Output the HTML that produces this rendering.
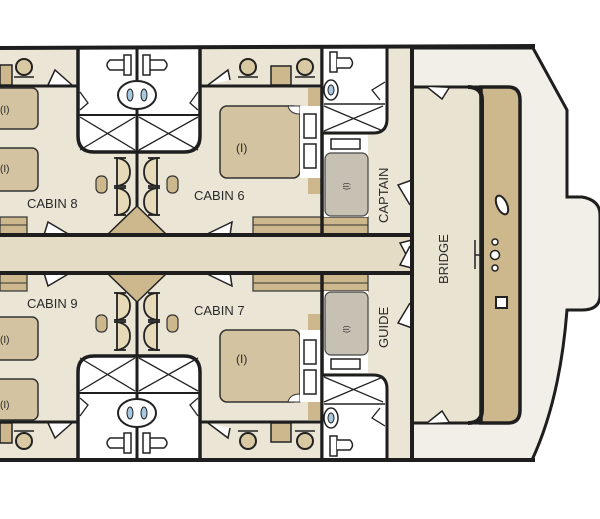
<!DOCTYPE html>
<html><head><meta charset="utf-8"><style>
html,body{margin:0;padding:0;background:#fff;}
svg{display:block;}
text{font-family:"Liberation Sans",sans-serif;fill:#2a2a2a;}
</style></head><body>
<svg width="600" height="519" viewBox="0 0 600 519" xmlns="http://www.w3.org/2000/svg">
<rect width="600" height="519" fill="#fff"/>
<path d="M412,48 L533,48 L567,110 L567,197 L582,197 Q600,200 600,215 L600,295 Q600,310 582,310 L567,310 Q560,400 532,460 L412,460 Z" fill="#f2efe9" stroke="#1e1e1e" stroke-width="3"/>
<rect x="0" y="48" width="412" height="412" fill="#ebe5d5"/>
<rect x="0" y="235" width="412" height="38" fill="#e4dcc5"/>

<g id="top">
  <rect x="0" y="65" width="12" height="20" fill="#cdb88e" stroke="#222" stroke-width="1.5"/>
  <circle cx="24" cy="67" r="8" fill="#d9c9a3" stroke="#222" stroke-width="2"/>
  <line x1="14" y1="77" x2="34" y2="77" stroke="#222" stroke-width="1.5"/>
  <path d="M48,85 L55,70 L72,85" fill="#fff" stroke="#222" stroke-width="1.5"/>
  <path d="M208,85 L228,70 L230,80" fill="#fff" stroke="#222" stroke-width="1.5"/>
  <circle cx="248" cy="67" r="8" fill="#d9c9a3" stroke="#222" stroke-width="2"/>
  <line x1="238" y1="77" x2="258" y2="77" stroke="#222" stroke-width="1.5"/>
  <rect x="271" y="66" width="20" height="19" fill="#cdb88e" stroke="#222" stroke-width="1.5"/>
  <circle cx="305" cy="67" r="8" fill="#d9c9a3" stroke="#222" stroke-width="2"/>
  <line x1="295" y1="77" x2="315" y2="77" stroke="#222" stroke-width="1.5"/>
  <line x1="0" y1="86" x2="78" y2="86" stroke="#1e1e1e" stroke-width="3"/>
  <line x1="200" y1="86" x2="322" y2="86" stroke="#1e1e1e" stroke-width="3"/>
  <rect x="-10" y="88" width="48" height="41" rx="6" fill="#d3c3a0" stroke="#333" stroke-width="1.5"/>
  <rect x="-10" y="148" width="48" height="43" rx="6" fill="#d3c3a0" stroke="#333" stroke-width="1.5"/>
  <rect x="220" y="106" width="80" height="72" rx="7" fill="#d3c3a0" stroke="#333" stroke-width="1.5"/>
  <path d="M288,106 L300,106 L300,114 Q290,114 288,106" fill="#fff" stroke="#333" stroke-width="1"/>
  <rect x="300" y="106" width="22" height="72" fill="#fff"/>
  <rect x="304" y="114" width="12" height="24" fill="#fff" stroke="#222" stroke-width="1.5"/>
  <rect x="304" y="144" width="12" height="24" fill="#fff" stroke="#222" stroke-width="1.5"/>
  <rect x="308" y="88" width="14" height="18" fill="#cdb88e"/>
  <rect x="308" y="178" width="14" height="16" fill="#cdb88e"/>
  <path d="M78,48 L78,136 Q78,152 94,152 L184,152 Q200,152 200,136 L200,48" fill="#fff" stroke="#1e1e1e" stroke-width="3.5"/>
  <line x1="78" y1="115" x2="200" y2="115" stroke="#1e1e1e" stroke-width="2"/>
  <path d="M80,117 L135,150 M80,150 L135,117 M139,117 L198,150 M139,150 L198,117" stroke="#222" stroke-width="1.3"/>
  <line x1="137" y1="48" x2="137" y2="235" stroke="#1e1e1e" stroke-width="3"/>
  <ellipse cx="137" cy="95" rx="19" ry="14" fill="#fff" stroke="#222" stroke-width="2"/>
  <ellipse cx="130" cy="95" rx="3" ry="6" fill="#a8c8e0" stroke="#222" stroke-width="1"/>
  <ellipse cx="144" cy="95" rx="3" ry="6" fill="#a8c8e0" stroke="#222" stroke-width="1"/>
  <path d="M126,60 L110,60 Q104,65 110,70 L126,70 Z" fill="#fff" stroke="#222" stroke-width="1.5"/>
  <rect x="124" y="55" width="7" height="20" fill="#fff" stroke="#222" stroke-width="1.5"/>
  <path d="M148,60 L164,60 Q170,65 164,70 L148,70 Z" fill="#fff" stroke="#222" stroke-width="1.5"/>
  <rect x="143" y="55" width="7" height="20" fill="#fff" stroke="#222" stroke-width="1.5"/>
  <path d="M80,92 L88,103 L80,110 M198,92 L190,103 L198,110" fill="none" stroke="#222" stroke-width="1.3"/>
  <g fill="#e6dab8" stroke="#222" stroke-width="1.8">
    <path d="M117,158 Q130,160 130,172 Q130,184 117,186 Z"/><line x1="114" y1="158" x2="126" y2="158"/><line x1="114" y1="186" x2="126" y2="186"/>
    <path d="M117,188 Q130,190 130,202 Q130,214 117,215 Z"/><line x1="114" y1="188" x2="126" y2="188"/><line x1="114" y1="215" x2="126" y2="215"/>
    <path d="M157,158 Q144,160 144,172 Q144,184 157,186 Z"/><line x1="148" y1="158" x2="160" y2="158"/><line x1="148" y1="186" x2="160" y2="186"/>
    <path d="M157,188 Q144,190 144,202 Q144,214 157,215 Z"/><line x1="148" y1="188" x2="160" y2="188"/><line x1="148" y1="215" x2="160" y2="215"/>
  </g>
  <rect x="96" y="176" width="11" height="17" rx="5" fill="#cdb88e" stroke="#333" stroke-width="1.2"/>
  <rect x="167" y="176" width="11" height="17" rx="5" fill="#cdb88e" stroke="#333" stroke-width="1.2"/>
  <path d="M107,235 L137,206 L167,235 Z" fill="#cdb88e" stroke="#222" stroke-width="1.5"/>
  <rect x="0" y="217" width="27" height="18" fill="#cdb88e" stroke="#333" stroke-width="1.2"/>
  <line x1="0" y1="225" x2="27" y2="225" stroke="#333" stroke-width="1"/>
  <rect x="253" y="217" width="115" height="18" fill="#cdb88e" stroke="#333" stroke-width="1.2"/>
  <line x1="253" y1="225" x2="368" y2="225" stroke="#333" stroke-width="1"/>
  <path d="M44,235 L48,222 L70,235 M230,235 L232,222 L205,235" fill="#fff" stroke="#222" stroke-width="1.5"/>
  <line x1="322" y1="48" x2="322" y2="235" stroke="#1e1e1e" stroke-width="3.5"/>
  <path d="M322,48 L322,133 L373,133 Q387,133 387,119 L387,48" fill="#fff" stroke="#1e1e1e" stroke-width="3"/>
  <line x1="324" y1="104" x2="385" y2="104" stroke="#222" stroke-width="1.5"/>
  <path d="M324,106 L383,131 M324,131 L383,106" stroke="#222" stroke-width="1.3"/>
  <ellipse cx="331" cy="90" rx="7" ry="10" fill="#fff" stroke="#222" stroke-width="1.5"/>
  <ellipse cx="331" cy="90" rx="3" ry="5" fill="#a8c8e0" stroke="#222" stroke-width="1"/>
  <rect x="330" y="52" width="7" height="20" fill="#fff" stroke="#222" stroke-width="1.5"/>
  <path d="M337,58 L350,58 Q355,63 350,68 L337,68" fill="#fff" stroke="#222" stroke-width="1.5"/>
  <path d="M385,82 L372,90 L380,100" fill="none" stroke="#222" stroke-width="1.3"/>
  <rect x="324" y="135" width="44" height="82" fill="#fff"/>
  <rect x="331" y="139" width="29" height="10" fill="#fff" stroke="#222" stroke-width="1.5"/>
  <rect x="325" y="153" width="43" height="63" rx="6" fill="#c6c1b3" stroke="#444" stroke-width="1.2"/>
  <path d="M412,180 L398,185 L410,205" fill="#fff" stroke="#222" stroke-width="1.5"/>
  <path d="M412,240 L400,243 L410,262" fill="#fff" stroke="#222" stroke-width="1.5"/>
</g>
<use href="#top" transform="matrix(1,0,0,-1,0,508)"/>

<line x1="0" y1="235" x2="412" y2="235" stroke="#1e1e1e" stroke-width="4"/>
<line x1="0" y1="273" x2="412" y2="273" stroke="#1e1e1e" stroke-width="4"/>
<line x1="0" y1="48" x2="535" y2="46" stroke="#1e1e1e" stroke-width="4"/>
<line x1="0" y1="460" x2="535" y2="460" stroke="#1e1e1e" stroke-width="4"/>
<line x1="412" y1="46" x2="412" y2="460" stroke="#1e1e1e" stroke-width="4"/>
<rect x="414" y="87" width="67" height="336" fill="#e9e3d1"/>
<line x1="412" y1="87" x2="482" y2="87" stroke="#1e1e1e" stroke-width="3"/>
<line x1="412" y1="423" x2="482" y2="423" stroke="#1e1e1e" stroke-width="3"/>
<path d="M481,87 L508,87 Q520,87 520,100 L520,410 Q520,423 508,423 L481,423 Z" fill="#cdb88e" stroke="#1e1e1e" stroke-width="3.5"/>
<path d="M468,87 Q482,87 482,100 L482,410 Q482,423 468,423" fill="none" stroke="#1e1e1e" stroke-width="4"/>
<path d="M427,87 L442,99 L449,88" fill="#fff" stroke="#222" stroke-width="1.5"/>
<path d="M427,423 L442,411 L449,422" fill="#fff" stroke="#222" stroke-width="1.5"/>
<ellipse cx="502" cy="205" rx="5" ry="10" transform="rotate(-25 502 205)" fill="#fff" stroke="#222" stroke-width="2"/>
<circle cx="495" cy="242" r="3" fill="#fff" stroke="#222" stroke-width="1.5"/>
<circle cx="495" cy="255" r="4.5" fill="#fff" stroke="#222" stroke-width="1.5"/>
<circle cx="495" cy="268" r="3" fill="#fff" stroke="#222" stroke-width="1.5"/>
<path d="M475,240 L475,269 M475,255 L481,255" stroke="#222" stroke-width="1.5"/>
<rect x="496" y="297" width="11" height="11" fill="#fff" stroke="#222" stroke-width="2"/>

<text x="27" y="208" font-size="13">CABIN 8</text>
<text x="194" y="200" font-size="13">CABIN 6</text>
<text x="27" y="308" font-size="13">CABIN 9</text>
<text x="194" y="315" font-size="13">CABIN 7</text>
<text x="236" y="152" font-size="12">(I)</text>
<text x="236" y="363" font-size="12">(I)</text>
<text x="0" y="113" font-size="10">(I)</text>
<text x="0" y="172" font-size="10">(I)</text>
<text x="0" y="343" font-size="10">(I)</text>
<text x="0" y="408" font-size="10">(I)</text>
<text font-size="13" transform="translate(388,223) rotate(-90)">CAPTAIN</text>
<text font-size="13" transform="translate(448,284) rotate(-90)">BRIDGE</text>
<text font-size="13" transform="translate(388,348) rotate(-90)">GUIDE</text>
<text font-size="8" transform="translate(349,190) rotate(-90)">(I)</text>
<text font-size="8" transform="translate(349,333) rotate(-90)">(I)</text>
</svg>
</body></html>
